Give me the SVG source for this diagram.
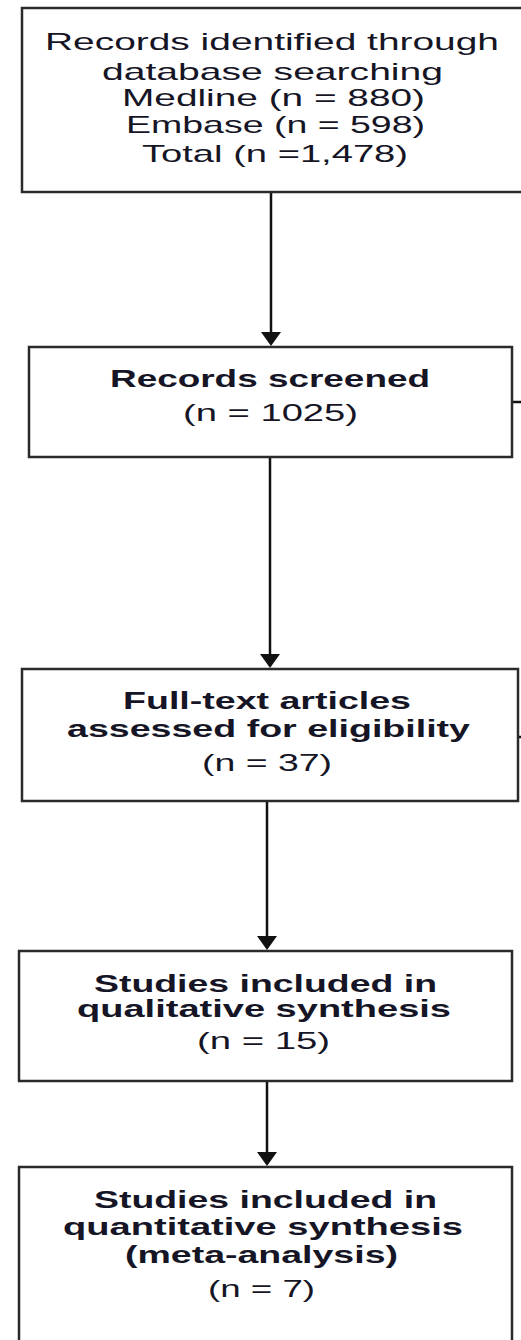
<svg xmlns="http://www.w3.org/2000/svg" width="521" height="1340" viewBox="0 0 521 1340">
<style>
.box{fill:#fff;stroke:#2a2a2a;stroke-width:2.5}
.t{font-family:"Liberation Sans",Arial,sans-serif;font-size:24px;fill:#151525;text-anchor:start}
.b{font-weight:bold}
.c{stroke:#111;stroke-width:2.5;fill:none}
</style>
<defs>
<marker id="ah" markerWidth="20" markerHeight="14" refX="10" refY="14" orient="auto-start-reverse" markerUnits="userSpaceOnUse" viewBox="0 0 20 14">
<path d="M0,0 L20,0 L10,14 Z" transform="rotate(0)" fill="#111"/>
</marker>
</defs>
<rect width="521" height="1340" fill="#fff"/>
<g id="connectors">
<line class="c" x1="271" y1="192" x2="271" y2="332"/><path d="M261,332 L281,332 L271,346 Z" fill="#111"/>
<line class="c" x1="270" y1="457" x2="270" y2="654"/><path d="M260,654 L280,654 L270,668 Z" fill="#111"/>
<line class="c" x1="267" y1="801" x2="267" y2="936"/><path d="M257,936 L277,936 L267,950 Z" fill="#111"/>
<line class="c" x1="267" y1="1081" x2="267" y2="1152"/><path d="M257,1152 L277,1152 L267,1166 Z" fill="#111"/>
<line class="c" x1="512" y1="402" x2="521" y2="402"/>
<line class="c" x1="518" y1="737" x2="521" y2="737"/>
</g>
<g id="n1">
<rect class="box" x="22" y="8" width="520" height="184"/>
<text class="t" x="45" y="50" textLength="454" lengthAdjust="spacingAndGlyphs">Records identified through</text>
<text class="t" x="102" y="80" textLength="341" lengthAdjust="spacingAndGlyphs">database searching</text>
<text class="t" x="122" y="106" textLength="303" lengthAdjust="spacingAndGlyphs">Medline (n = 880)</text>
<text class="t" x="126" y="133" textLength="299" lengthAdjust="spacingAndGlyphs">Embase (n = 598)</text>
<text class="t" x="142" y="162" textLength="266" lengthAdjust="spacingAndGlyphs">Total (n =1,478)</text>
</g>
<g id="n2">
<rect class="box" x="29" y="347" width="483" height="110"/>
<text class="t b" x="110" y="387" textLength="320" lengthAdjust="spacingAndGlyphs">Records screened</text>
<text class="t" x="183" y="421" textLength="175" lengthAdjust="spacingAndGlyphs">(n = 1025)</text>
</g>
<g id="n3">
<rect class="box" x="22" y="669" width="496" height="132"/>
<text class="t b" x="123" y="709" textLength="288" lengthAdjust="spacingAndGlyphs">Full-text articles</text>
<text class="t b" x="67" y="737" textLength="403" lengthAdjust="spacingAndGlyphs">assessed for eligibility</text>
<text class="t" x="202" y="771" textLength="130" lengthAdjust="spacingAndGlyphs">(n = 37)</text>
</g>
<g id="n4">
<rect class="box" x="19" y="951" width="493" height="130"/>
<text class="t b" x="94" y="992" textLength="343" lengthAdjust="spacingAndGlyphs">Studies included in</text>
<text class="t b" x="77" y="1017" textLength="374" lengthAdjust="spacingAndGlyphs">qualitative synthesis</text>
<text class="t" x="197" y="1049" textLength="133" lengthAdjust="spacingAndGlyphs">(n = 15)</text>
</g>
<g id="n5">
<rect class="box" x="19" y="1167" width="493" height="200"/>
<text class="t b" x="94" y="1208" textLength="343" lengthAdjust="spacingAndGlyphs">Studies included in</text>
<text class="t b" x="63" y="1235" textLength="400" lengthAdjust="spacingAndGlyphs">quantitative synthesis</text>
<text class="t b" x="125" y="1263" textLength="273" lengthAdjust="spacingAndGlyphs">(meta-analysis)</text>
<text class="t" x="208" y="1297" textLength="107" lengthAdjust="spacingAndGlyphs">(n = 7)</text>
</g>
</svg>
